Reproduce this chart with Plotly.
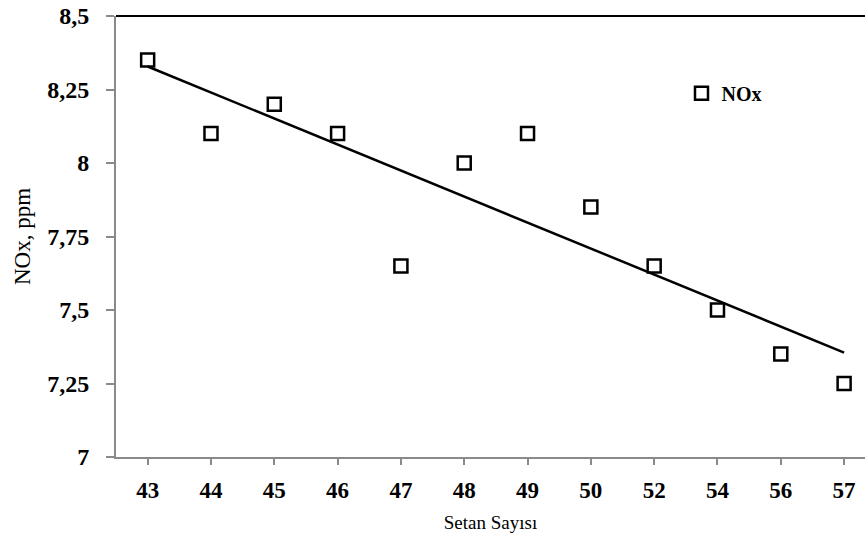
import numpy as np
import plotly.graph_objects as go

categories = ["43", "44", "45", "46", "47", "48", "49", "50", "52", "54", "56", "57"]
nox_values = [8.35, 8.10, 8.20, 8.10, 7.65, 8.00, 8.10, 7.85, 7.65, 7.50, 7.35, 7.25]
y_ticks = [7, 7.25, 7.5, 7.75, 8, 8.25, 8.5]
y_tick_labels = ["7", "7,25", "7,5", "7,75", "8", "8,25", "8,5"]

idx = np.arange(len(categories))
slope, intercept = np.polyfit(idx, nox_values, 1)
trend = slope * idx + intercept

font_family = "Liberation Serif, Times New Roman, serif"

fig = go.Figure()
fig.add_trace(go.Scatter(
    x=idx, y=trend, mode="lines", line=dict(color="black", width=2.5),
    showlegend=False, hoverinfo="skip"))
fig.add_trace(go.Scatter(
    x=idx, y=nox_values, mode="markers", name="<b>NOx</b>",
    marker=dict(symbol="square-open", size=13, color="black", line=dict(width=2.5, color="black"))))

fig.update_layout(
    width=865, height=543,
    margin=dict(l=116, r=0, t=16, b=86),
    paper_bgcolor="white", plot_bgcolor="white",
    font=dict(family=font_family, color="black"),
    legend=dict(x=0.755, y=0.825, xanchor="left", yanchor="middle",
                font=dict(size=20, family=font_family, color="black"),
                bgcolor="rgba(0,0,0,0)", itemwidth=30, tracegroupgap=0),
    xaxis=dict(
        range=[-0.5, 11.33], tickmode="array", tickvals=list(idx), ticktext=[f"<b>{c}</b>" for c in categories],
        showgrid=False, zeroline=False, showline=True, linecolor="#8a8a8a", linewidth=2,
        ticks="outside", ticklen=6, tickcolor="#8a8a8a", tickwidth=1.5,
        tickfont=dict(size=23, family=font_family, color="black"),
        ticklabelstandoff=5,
        title=dict(text="Setan Sayısı", font=dict(size=19, family=font_family, color="black"), standoff=14),
    ),
    yaxis=dict(
        range=[7, 8.5], tickmode="array", tickvals=y_ticks, ticktext=[f"<b>{t}</b>" for t in y_tick_labels],
        showgrid=False, zeroline=False, showline=True, linecolor="#8a8a8a", linewidth=2,
        ticks="outside", ticklen=8, tickcolor="#8a8a8a", tickwidth=1.5,
        tickfont=dict(size=24, family=font_family, color="black"),
        ticklabelstandoff=12,
        title=dict(text="NOx, ppm", font=dict(size=23, family=font_family, color="black"), standoff=10),
    ),
    shapes=[dict(type="line", xref="paper", yref="paper", x0=0, x1=1, y0=1, y1=1,
                 line=dict(color="black", width=2))],
)

fig.write_html("out.html")
